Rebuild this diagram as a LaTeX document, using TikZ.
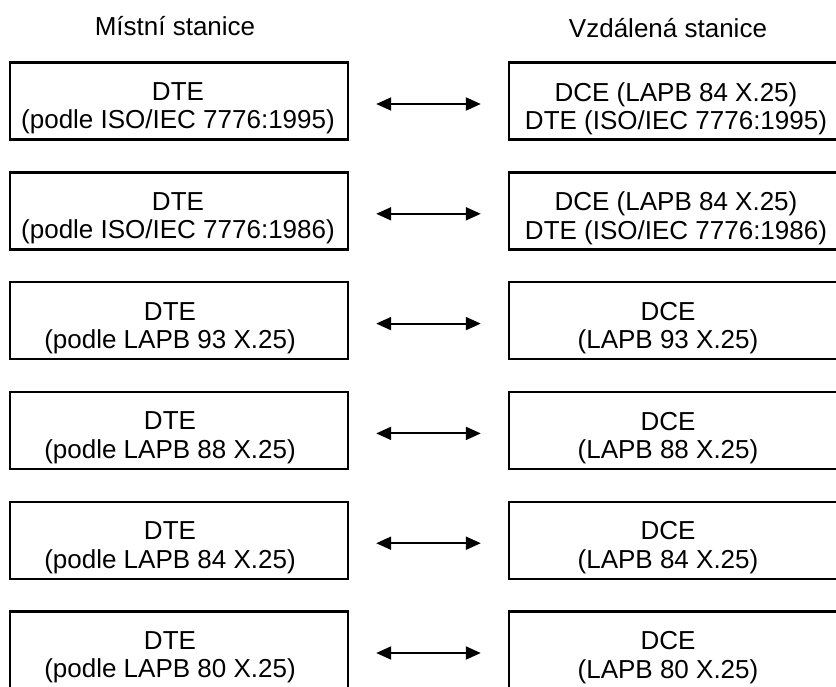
\documentclass[tikz,border=0pt]{standalone}
\usepackage{fontspec}
\setmainfont{Liberation Sans}
\usetikzlibrary{arrows.meta}
\begin{document}
\begin{tikzpicture}[x=0.5pt,y=-0.5pt,
  box/.style={draw, line width=1.2pt, minimum width=169pt, minimum height=38.5pt, inner sep=0pt},
  txt/.style={align=center, inner sep=0pt, font=\fontsize{13}{14.2}\selectfont},
  ttl/.style={inner sep=0pt, anchor=base, font=\fontsize{13}{14.2}\selectfont},
  tip/.tip={Triangle[length=7.5pt,width=6.5pt]},
  link/.style={tip-tip, line width=1pt, shorten <=13.5pt, shorten >=13.5pt}]
\useasboundingbox (0,0) rectangle (836,686);
\clip (0,0) rectangle (836,686);

% titles
\node[ttl] (T1) at (175,35) {Místní stanice};
\node[ttl] (T2) at (668,37) {Vzdálená stanice};

% left boxes
\node[box] (L1) at (179,101) {};
\node[box] (L2) at (179,210.8) {};
\node[box] (L3) at (179,320.6) {};
\node[box] (L4) at (179,430.4) {};
\node[box] (L5) at (179,540.2) {};
\node[box] (L6) at (179,650) {};

% right boxes
\node[box] (R1) at (678,101) {};
\node[box] (R2) at (678,210.8) {};
\node[box] (R3) at (678,320.6) {};
\node[box] (R4) at (678,430.4) {};
\node[box] (R5) at (678,540.2) {};
\node[box] (R6) at (678,650) {};

% left texts
\node[txt] (LT1) at ([xshift=-0.5pt,yshift=-3.75pt]L1.center) {DTE\\(podle ISO/IEC 7776:1995)};
\node[txt] (LT2) at ([xshift=-0.5pt,yshift=-3.75pt]L2.center) {DTE\\(podle ISO/IEC 7776:1986)};
\node[txt] (LT3) at ([xshift=-4.5pt,yshift=-3.75pt]L3.center) {DTE\\(podle LAPB 93 X.25)};
\node[txt] (LT4) at ([xshift=-4.5pt,yshift=-3.75pt]L4.center) {DTE\\(podle LAPB 88 X.25)};
\node[txt] (LT5) at ([xshift=-4.5pt,yshift=-3.75pt]L5.center) {DTE\\(podle LAPB 84 X.25)};
\node[txt] (LT6) at ([xshift=-4.5pt,yshift=-3.75pt]L6.center) {DTE\\(podle LAPB 80 X.25)};

% right texts
\node[txt] (RT1) at ([xshift=-1pt,yshift=-3.75pt]R1.center) {DCE (LAPB 84 X.25)\\DTE (ISO/IEC 7776:1995)};
\node[txt] (RT2) at ([xshift=-1pt,yshift=-3.75pt]R2.center) {DCE (LAPB 84 X.25)\\DTE (ISO/IEC 7776:1986)};
\node[txt] (RT3) at ([xshift=-5pt,yshift=-3.75pt]R3.center) {DCE\\(LAPB 93 X.25)};
\node[txt] (RT4) at ([xshift=-5pt,yshift=-3.75pt]R4.center) {DCE\\(LAPB 88 X.25)};
\node[txt] (RT5) at ([xshift=-5pt,yshift=-3.75pt]R5.center) {DCE\\(LAPB 84 X.25)};
\node[txt] (RT6) at ([xshift=-5pt,yshift=-3.75pt]R6.center) {DCE\\(LAPB 80 X.25)};

% arrows
\draw[link] ([yshift=-1.5pt]L1.east) -- ([yshift=-1.5pt]R1.west);
\draw[link] ([yshift=-1.5pt]L2.east) -- ([yshift=-1.5pt]R2.west);
\draw[link] ([yshift=-1.5pt]L3.east) -- ([yshift=-1.5pt]R3.west);
\draw[link] ([yshift=-1.5pt]L4.east) -- ([yshift=-1.5pt]R4.west);
\draw[link] ([yshift=-1.5pt]L5.east) -- ([yshift=-1.5pt]R5.west);
\draw[link] ([yshift=-1.5pt]L6.east) -- ([yshift=-1.5pt]R6.west);
\end{tikzpicture}
\end{document}
